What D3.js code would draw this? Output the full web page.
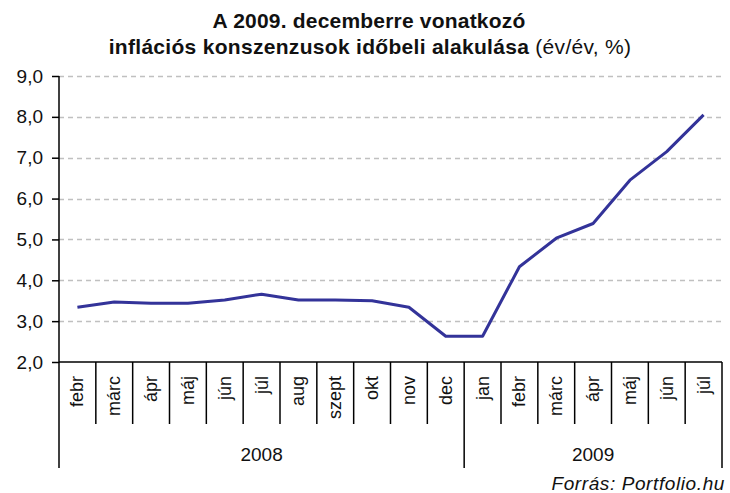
<!DOCTYPE html>
<html>
<head>
<meta charset="utf-8">
<script src="https://cdn.jsdelivr.net/npm/d3@7"></script>
<style>
  html, body { margin: 0; padding: 0; background: #fff; }
  svg { display: block; font-family: Arial, "Liberation Sans", sans-serif; }
</style>
</head>
<body>
<svg id="chart" width="730" height="493"></svg>
<script>
// ---- data ----
const months = ["febr", "márc", "ápr", "máj", "jún", "júl", "aug", "szept", "okt", "nov", "dec",
                "jan", "febr", "márc", "ápr", "máj", "jún", "júl"];
const years = ["2008", "2009"];
const yearSpans = [11, 7]; // number of months in each year group
const values = [3.34, 3.47, 3.44, 3.44, 3.52, 3.66, 3.52, 3.52, 3.50, 3.34, 2.63,
                2.63, 4.33, 5.03, 5.39, 6.45, 7.15, 8.05];
const yTicks = [2, 3, 4, 5, 6, 7, 8, 9];
const titleLine1 = "A 2009. decemberre vonatkozó";
const titleLine2Bold = "inflációs konszenzusok időbeli alakulása";
const titleLine2Normal = " (év/év, %)";
const sourceText = "Forrás: Portfolio.hu";

// ---- layout ----
const svg = d3.select("#chart");
const pLeft = 59, pRight = 722, pTop = 76, pBottom = 362;
const keys = months.map((m, i) => i);
const x = d3.scaleBand().domain(keys).range([pLeft, pRight]).padding(0);
const y = d3.scaleLinear().domain([2, 9]).range([pBottom, pTop]);
const fmt = d => d3.format(".1f")(d).replace(".", ",");

// gridlines
svg.append("g").selectAll("line").data(yTicks.filter(d => d > 2)).join("line")
  .attr("x1", pLeft).attr("x2", pRight)
  .attr("y1", d => Math.round(y(d)) + 0.5).attr("y2", d => Math.round(y(d)) + 0.5)
  .attr("stroke", "#c0c0c0").attr("stroke-width", 1.5).attr("stroke-dasharray", "5,4");

// y axis
const yAxis = d3.axisLeft(y).tickValues(yTicks).tickFormat(fmt).tickSize(7).tickPadding(9);
const gy = svg.append("g").attr("transform", `translate(${pLeft},0)`).call(yAxis);
gy.select(".domain").remove();
gy.selectAll(".tick line").attr("stroke", "#000").attr("stroke-width", 1.5);
gy.selectAll(".tick text").attr("font-size", 19).attr("fill", "#111")
  .attr("font-family", "Arial, 'Liberation Sans', sans-serif");

// x axis baseline
svg.append("line").attr("x1", pLeft).attr("x2", pRight).attr("y1", pBottom).attr("y2", pBottom)
  .attr("stroke", "#000").attr("stroke-width", 1.5);
// y axis line (extends down to the year box)
svg.append("line").attr("x1", pLeft).attr("x2", pLeft).attr("y1", pTop).attr("y2", 468)
  .attr("stroke", "#000").attr("stroke-width", 1.5);

// month separators
const yearBounds = [0];
yearSpans.forEach(s => yearBounds.push(yearBounds[yearBounds.length - 1] + s));
const bounds = d3.range(1, months.length + 1);
svg.append("g").selectAll("line").data(bounds).join("line")
  .attr("x1", d => d === months.length ? pRight : x(d))
  .attr("x2", d => d === months.length ? pRight : x(d))
  .attr("y1", pBottom)
  .attr("y2", d => yearBounds.includes(d) ? 468 : 424)
  .attr("stroke", "#000").attr("stroke-width", 1.5);

// month labels
svg.append("g").selectAll("text").data(keys).join("text")
  .attr("transform", d => `translate(${x(d) + x.bandwidth() / 2 + 6},376) rotate(-90)`)
  .attr("text-anchor", "end").attr("font-size", 18).attr("fill", "#111")
  .text(d => months[d]);

// year labels
svg.append("g").selectAll("text").data(years).join("text")
  .attr("x", (d, i) => {
    const a = yearBounds[i], b = yearBounds[i + 1];
    const xa = x(a), xb = b === months.length ? pRight : x(b);
    return (xa + xb) / 2;
  })
  .attr("y", 461).attr("text-anchor", "middle").attr("font-size", 19).attr("fill", "#111")
  .text(d => d);

// line
const line = d3.line().x((d, i) => x(i) + x.bandwidth() / 2).y(d => y(d));
svg.append("path").datum(values).attr("d", line)
  .attr("fill", "none").attr("stroke", "#333399").attr("stroke-width", 3)
  .attr("stroke-linejoin", "round");

// title
svg.append("text").attr("x", 369).attr("y", 28).attr("text-anchor", "middle")
  .attr("font-size", 21).attr("letter-spacing", 0.2).attr("font-weight", "bold")
  .attr("fill", "#111").text(titleLine1);
const t2 = svg.append("text").attr("x", 370).attr("y", 53.5).attr("text-anchor", "middle")
  .attr("font-size", 21).attr("letter-spacing", 0.3).attr("fill", "#111");
t2.append("tspan").attr("font-weight", "bold").text(titleLine2Bold);
t2.append("tspan").text(titleLine2Normal);

// source
svg.append("text").attr("x", 725).attr("y", 490).attr("text-anchor", "end")
  .attr("font-size", 19).attr("letter-spacing", 0.6).attr("font-style", "italic")
  .attr("fill", "#111").text(sourceText);
</script>
</body>
</html>
